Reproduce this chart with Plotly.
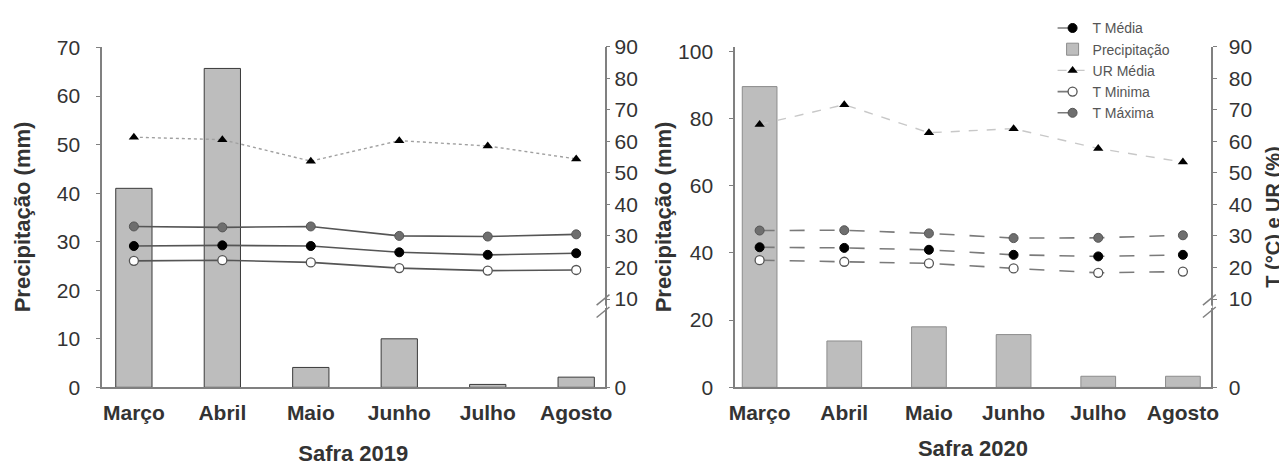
import plotly.graph_objects as go

# ---------------- data ----------------
categories = ["Março", "Abril", "Maio", "Junho", "Julho", "Agosto"]

precip_2019 = [41.0, 65.7, 4.1, 10.0, 0.6, 2.1]
ur_2019 = [61.3, 60.5, 53.7, 60.2, 58.5, 54.4]
tmax_2019 = [33.0, 32.7, 33.0, 30.0, 29.8, 30.5]
tmed_2019 = [26.8, 27.0, 26.8, 24.8, 24.0, 24.5]
tmin_2019 = [22.1, 22.3, 21.6, 19.8, 19.0, 19.2]

precip_2020 = [89.5, 13.8, 18.0, 15.7, 3.3, 3.3]
ur_2020 = [65.3, 71.6, 62.7, 64.0, 57.7, 53.4]
tmax_2020 = [31.7, 31.8, 30.8, 29.3, 29.4, 30.2]
tmed_2020 = [26.4, 26.2, 25.6, 24.0, 23.5, 24.0]
tmin_2020 = [22.3, 21.8, 21.3, 19.7, 18.3, 18.7]

right_tickvals = [-18, 10, 20, 30, 40, 50, 60, 70, 80, 90]   # -18 = broken-axis position of "0"
right_ticktext = ["0", "10", "20", "30", "40", "50", "60", "70", "80", "90"]

W, H = 1287, 464
FONT = "Liberation Sans, Arial, sans-serif"
TXT = "#333333"
AX = "#808080"


def px(x):
    return x / W


def py(y):
    return 1 - y / H


fig = go.Figure()


def add_panel(xa, ya, ya2, precip, ur, tmax, tmed, tmin, show, bar_line, tline, tdash, urline, urdash):
    xs = "x" if xa == 1 else f"x{xa}"
    ys = "y" if ya == 1 else f"y{ya}"
    ys2 = f"y{ya2}"
    fig.add_trace(go.Scatter(x=categories, y=tmed, xaxis=xs, yaxis=ys2, name="T Média",
                             mode="lines+markers", showlegend=show, legendrank=1,
                             line=dict(color=tline, width=1.6, dash=tdash),
                             marker=dict(symbol="circle", size=9, color="#000000",
                                         line=dict(color="#000000", width=1))))
    fig.add_trace(go.Bar(x=categories, y=precip, xaxis=xs, yaxis=ys, name="Precipitação",
                         showlegend=show, legendrank=2,
                         marker=dict(color="#bdbdbd", line=dict(color=bar_line, width=1))))
    fig.add_trace(go.Scatter(x=categories, y=ur, xaxis=xs, yaxis=ys2, name="UR Média",
                             mode="lines+markers", showlegend=show, legendrank=3,
                             line=dict(color=urline, width=1.4, dash=urdash),
                             marker=dict(symbol="triangle-up", size=9, color="#000000")))
    fig.add_trace(go.Scatter(x=categories, y=tmin, xaxis=xs, yaxis=ys2, name="T Minima",
                             mode="lines+markers", showlegend=show, legendrank=4,
                             line=dict(color=tline, width=1.6, dash=tdash),
                             marker=dict(symbol="circle", size=9, color="#ffffff",
                                         line=dict(color="#555555", width=1.3))))
    fig.add_trace(go.Scatter(x=categories, y=tmax, xaxis=xs, yaxis=ys2, name="T Máxima",
                             mode="lines+markers", showlegend=show, legendrank=5,
                             line=dict(color=tline, width=1.6, dash=tdash),
                             marker=dict(symbol="circle", size=9, color="#6e6e6e",
                                         line=dict(color="#555555", width=1))))


# panel 1 traces (Safra 2019)
add_panel(1, 1, 2, precip_2019, ur_2019, tmax_2019, tmed_2019, tmin_2019, False,
          "#3a3a3a", "#555555", "solid", "#a0a0a0", "dot")
# panel 2 traces (Safra 2020)
add_panel(2, 3, 4, precip_2020, ur_2020, tmax_2020, tmed_2020, tmin_2020, True,
          "#8c8c8c", "#7a7a7a", "longdash", "#c8c8c8", "dash")

ydom = [py(386.5), py(28)]
dom1 = [px(89), px(597)]
dom2 = [px(729), px(1210)]

tickfont = dict(family=FONT, size=21, color=TXT)
catfont = dict(family=FONT, size=21, color=TXT, weight="bold")
titlefont = dict(family=FONT, size=22, color=TXT, weight="bold")

common_x = dict(type="category", showline=True, linecolor=AX, linewidth=1.5, ticks="",
                showgrid=False, zeroline=False, tickfont=catfont, ticklabelstandoff=6)
common_yl = dict(showline=True, linecolor=AX, linewidth=1.5, ticks="outside", ticklen=4,
                 tickcolor=AX, showgrid=False, zeroline=False, tickfont=tickfont,
                 ticklabelstandoff=12)
common_yr = dict(showline=True, linecolor=AX, linewidth=1.5, ticks="outside", ticklen=4,
                 tickcolor=AX, showgrid=False, zeroline=False, tickfont=tickfont,
                 side="right", range=[-18, 90], tickmode="array",
                 tickvals=right_tickvals, ticktext=right_ticktext)

fig.update_layout(
    width=W, height=H,
    margin=dict(l=0, r=0, t=0, b=0),
    paper_bgcolor="white", plot_bgcolor="white",
    bargap=0.59,
    font=dict(family=FONT, color=TXT),
    xaxis=dict(common_x, domain=dom1, anchor="y", range=[-0.36, 5.32],
               title=dict(text="Safra 2019", font=titlefont, standoff=22)),
    yaxis=dict(common_yl, domain=ydom, anchor="x", range=[0, 70.2], dtick=10,
               title=dict(text="Precipitação (mm)", font=titlefont, standoff=20)),
    yaxis2=dict(common_yr, overlaying="y", anchor="x"),
    xaxis2=dict(common_x, domain=dom2, anchor="y3", range=[-0.29, 5.33],
                title=dict(text="Safra 2020", font=titlefont, standoff=17)),
    yaxis3=dict(common_yl, domain=ydom, anchor="x2", range=[0, 101.4], dtick=20,
                title=dict(text="Precipitação (mm)", font=titlefont, standoff=0)),
    yaxis4=dict(common_yr, overlaying="y3", anchor="x2", ticklabelstandoff=8,
                title=dict(text="T (°C) e UR (%)", font=dict(titlefont, size=20), standoff=15)),
    legend=dict(x=px(1050), y=py(-8), xanchor="left", yanchor="top",
                bgcolor="rgba(0,0,0,0)", font=dict(family=FONT, size=14, color="#555555"),
                tracegroupgap=0, traceorder="normal", itemwidth=30),
)

# axis-break marks on the right axes
shapes = []
for axx in (597, 1210):
    shapes.append(dict(type="line", xref="paper", yref="paper",
                       x0=px(axx), x1=px(axx), y0=py(300.5), y1=py(303),
                       line=dict(color="white", width=3)))
    for (ya, yb) in ((300, 289), (313, 302)):
        shapes.append(dict(type="line", xref="paper", yref="paper",
                           x0=px(axx - 8), x1=px(axx + 5), y0=py(ya), y1=py(yb),
                           line=dict(color=AX, width=1.5)))
fig.update_layout(shapes=shapes)

fig.write_html("out.html")
